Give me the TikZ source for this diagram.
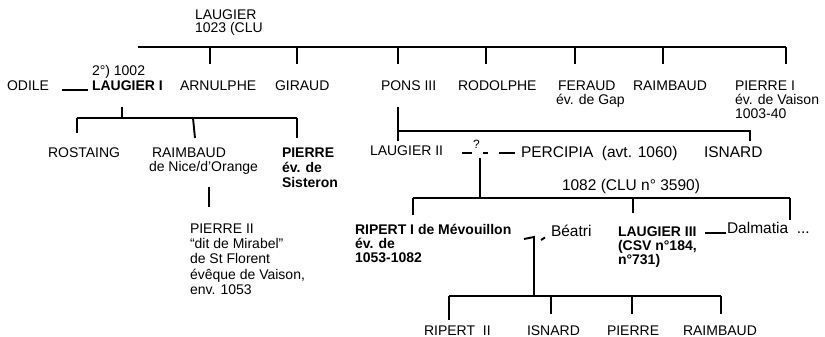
\documentclass[tikz,border=0pt]{standalone}
\usepackage{fontspec}
\setmainfont{Liberation Sans}
\begin{document}
\begin{tikzpicture}[x=1pt,y=-1pt,
  t/.style={anchor=base west,inner sep=0pt,outer sep=0pt,font=\fontsize{14}{16}\selectfont},
  tb/.style={t,font=\fontsize{14}{16}\selectfont\bfseries},
  tl/.style={t,font=\fontsize{15.5}{18}\selectfont},
  tq/.style={t,font=\fontsize{12}{14}\selectfont},
  ln/.style={line width=1.9pt}]
\useasboundingbox (0,0) rectangle (825,337);
% top
\node[t] (top1) at (195,19.5) {LAUGIER};
\node[t] (top2) at (195,32.5) {1023 (CLU};
\coordinate (tl) at (138,47);
\coordinate (tr) at (786,47);
\draw[ln] (tl) -- (tr);
\foreach \x in {210,297,398,486,575,663,786} \draw[ln] (\x,47) -- (\x,64);
% row 2
\node[t] (odile) at (7,91) {ODILE};
\draw[ln] (62,90) -- (88,90);
\node[t] (mar1) at (92,75) {2°) 1002};
\node[tb] (laugI) at (92,91) {LAUGIER I};
\node[t] (arnulphe) at (180,91) {ARNULPHE};
\node[t] (giraud) at (275,91) {GIRAUD};
\node[t] (pons) at (381,91) {PONS III};
\node[t] (rodolphe) at (458,91) {RODOLPHE};
\node[t] (feraud) at (558,91) {FERAUD};
\node[t] (feraud2) at (556,104.5) {év. de Gap};
\node[t] (raimbaud) at (633,91) {RAIMBAUD};
\node[t] (pierreI) at (735,91) {PIERRE I};
\node[t] (pierreI2) at (735,104.5) {év. de Vaison};
\node[t] (pierreI3) at (735,118) {1003-40};
% Laugier I children
\draw[ln] (122,107) -- (122,118);
\draw[ln] (77,118) -- (297,118);
\draw[ln] (77,118) -- (77,133);
\draw[ln] (193,118) -- (195,138);
\draw[ln] (297,118) -- (297,138);
\node[t] (rostaing) at (48,157) {ROSTAING};
\node[t] (raimb2) at (152,157) {RAIMBAUD};
\node[t] (raimb2b) at (149,171) {de Nice/d’Orange};
\node[tb] (pierre) at (282,157) {PIERRE};
\node[tb] (pierreb) at (282,172) {év. de};
\node[tb] (pierrec) at (282,187) {Sisteron};
\draw[ln] (209,187) -- (209,207);
\node[t] (pII1) at (190,233) {PIERRE II};
\node[t] (pII2) at (190,248) {“dit de Mirabel”};
\node[t] (pII3) at (190,263.5) {de St Florent};
\node[t] (pII4) at (190,279) {évêque de Vaison,};
\node[t] (pII5) at (190,294) {env. 1053};
% Pons III children
\draw[ln] (398,107) -- (398,141);
\draw[ln] (398,131) -- (750,131) -- (750,141);
\node[t] (laugII) at (370,155) {LAUGIER II};
\draw[ln] (462,153) -- (472,153);
\node[tq] (q) at (473,148) {?};
\draw[ln] (483,153) -- (488,153);
\draw[ln] (499,153) -- (515,153);
\node[tl] (percipia) at (521,157) {PERCIPIA\ \ (avt. 1060)};
\node[tl] (isnard) at (704,157) {ISNARD};
\draw[ln] (480,158) -- (480,198);
\node[tl] (d1082) at (562,190) {1082 (CLU n° 3590)};
\draw[ln] (413,198) -- (790,198);
\draw[ln] (413,198) -- (413,215);
\draw[ln] (633,198) -- (633,213);
\draw[ln] (790,198) -- (790,220);
% row 4
\node[tb] (ripI1) at (355,234) {RIPERT I de Mévouillon};
\node[tb] (ripI2) at (355,248) {év. de};
\node[tb] (ripI3) at (355,262) {1053-1082};
\node[tl] (beatri) at (551,236) {Béatri};
\draw[ln] (524,239) -- (534,237) -- (534,296);
\draw[ln] (541,240) -- (545,237.5);
\node[tb] (laugIII1) at (618,236) {LAUGIER III};
\node[tb] (laugIII2) at (618,250) {(CSV n°184,};
\node[tb] (laugIII3) at (618,264) {n°731)};
\draw[ln] (705,233) -- (726,233);
\node[tl] (dalmatia) at (727,233) {Dalmatia\ \ ...};
% bottom
\draw[ln] (449,296) -- (721,296);
\draw[ln] (449,296) -- (449,320);
\draw[ln] (551,296) -- (551,314);
\draw[ln] (632,296) -- (632,314);
\draw[ln] (721,296) -- (721,314);
\node[t] (ripII) at (424,335) {RIPERT\ \ II};
\node[t] (isn2) at (527,335) {ISNARD};
\node[t] (pie2) at (607,335) {PIERRE};
\node[t] (rai2) at (683,335) {RAIMBAUD};
\end{tikzpicture}
\end{document}
